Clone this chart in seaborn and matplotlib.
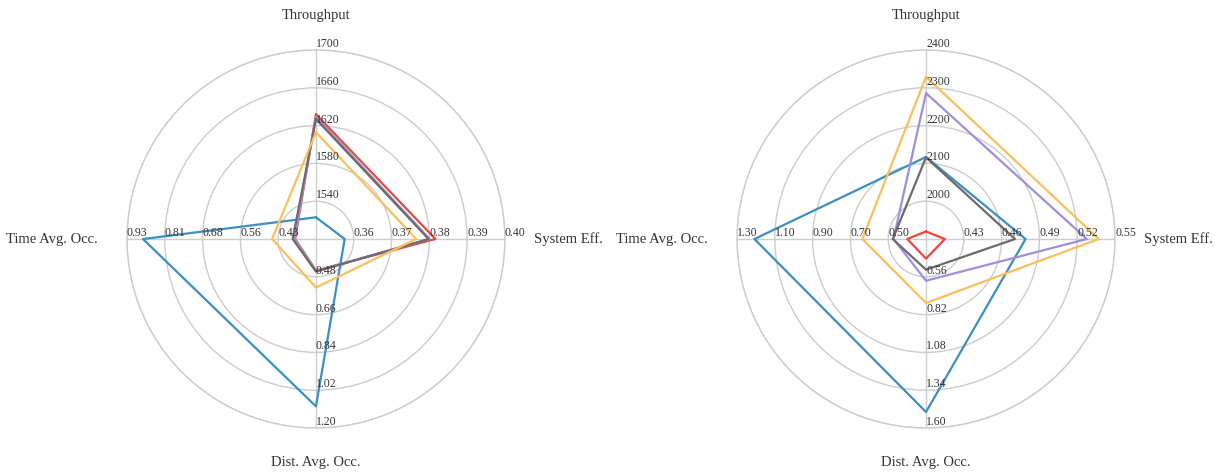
"""Radar charts comparing five methods on two scenarios."""
import matplotlib
matplotlib.use("Agg")
import matplotlib.pyplot as plt
import seaborn as sns
import pandas as pd
import numpy as np

sns.set_style("white")
plt.rcParams['font.family'] = ['Liberation Serif', 'DejaVu Serif']

# Indicators, clockwise from the top
indicators = ["Throughput", "System Eff.", "Dist. Avg. Occ.", "Time Avg. Occ."]
series_names = ["blue", "red", "purple", "gray", "orange"]
colors = ["#3b8fc2", "#e8493b", "#9d8fdc", "#6b6b6b", "#fbbf5b"]

# Left scenario
left_min = [1500, 0.35, 0.30, 0.305]
left_max = [1700, 0.40, 1.20, 0.93]
left_ticks = [["1540", "1580", "1620", "1660", "1700"],
              ["0.36", "0.37", "0.38", "0.39", "0.40"],
              ["0.48", "0.66", "0.84", "1.02", "1.20"],
              ["0.43", "0.56", "0.68", "0.81", "0.93"]]
left_blue = [1523, 0.3576, 1.097, 0.877]
left_red = [1632, 0.3816, 0.450, 0.374]
left_purple = [1629, 0.3801, 0.452, 0.376]
left_gray = [1627, 0.3798, 0.455, 0.382]
left_orange = [1613, 0.3765, 0.531, 0.450]

# Right scenario
right_min = [1900, 0.40, 0.30, 0.30]
right_max = [2400, 0.55, 1.60, 1.30]
right_ticks = [["2000", "2100", "2200", "2300", "2400"],
               ["0.43", "0.46", "0.49", "0.52", "0.55"],
               ["0.56", "0.82", "1.08", "1.34", "1.60"],
               ["0.50", "0.70", "0.90", "1.10", "1.30"]]
right_blue = [2117, 0.479, 1.490, 1.208]
right_red = [1920, 0.415, 0.435, 0.399]
right_purple = [2286, 0.5276, 0.587, 0.472]
right_gray = [2116, 0.4706, 0.511, 0.476]
right_orange = [2329, 0.537, 0.740, 0.637]

angles = np.array([0, 0.5, 1.0, 1.5]) * np.pi
name_pos = [(1.185, "center", "center"), (1.155, "left", "center"),
            (1.18, "center", "center"), (1.155, "right", "center")]


def build_frame(values, vmin, vmax):
    """Normalise each indicator to [0, 1] and close the polygons."""
    rows = []
    for name, vals in zip(series_names, values):
        vals = list(vals) + [vals[0]]
        mins = vmin + [vmin[0]]
        maxs = vmax + [vmax[0]]
        thetas = list(angles) + [2 * np.pi]
        for i, (v, lo, hi, t) in enumerate(zip(vals, mins, maxs, thetas)):
            rows.append({"series": name, "order": i, "theta": t,
                         "r": (v - lo) / (hi - lo)})
    return pd.DataFrame(rows)


def draw_radar(ax, values, vmin, vmax, ticks):
    df = build_frame(values, vmin, vmax)
    ax.set_theta_zero_location("N")
    ax.set_theta_direction(-1)
    ax.set_ylim(0, 1)
    ax.set_rgrids([0.2, 0.4, 0.6, 0.8, 1.0], labels=[""] * 5)
    ax.set_thetagrids([0, 90, 180, 270], labels=[""] * 4)
    ax.grid(True, color="#cccccc", linewidth=1.0)
    ax.spines["polar"].set_color("#cccccc")
    ax.spines["polar"].set_linewidth(1.0)
    ax.set_facecolor("white")

    sns.lineplot(data=df, x="theta", y="r", hue="series", units="series",
                 estimator=None, sort=False, palette=dict(zip(series_names, colors)),
                 linewidth=1.6, legend=False, ax=ax)
    ax.set_xlabel("")
    ax.set_ylabel("")

    # Tick labels along each spoke
    for t, labels in zip(angles, ticks):
        for k, lab in enumerate(labels):
            ax.text(t, 0.2 * (k + 1), lab, ha="left", va="bottom",
                    fontsize=8.5, color="#333333")

    # Indicator names
    for t, name, (r, ha, va) in zip(angles, indicators, name_pos):
        ax.text(t, r, name, ha=ha, va=va, fontsize=10.5, color="#333333",
                clip_on=False)


fig = plt.figure(figsize=(12.15, 4.74), dpi=100)
ax_left = fig.add_axes([0.1045, 0.097, 0.3111, 0.7975], projection="polar")
ax_right = fig.add_axes([0.6066, 0.097, 0.3111, 0.7975], projection="polar")

draw_radar(ax_left, [left_blue, left_red, left_purple, left_gray, left_orange],
           left_min, left_max, left_ticks)
draw_radar(ax_right, [right_blue, right_red, right_purple, right_gray, right_orange],
           right_min, right_max, right_ticks)

fig.savefig("out.png", dpi=100)
plt.close(fig)
